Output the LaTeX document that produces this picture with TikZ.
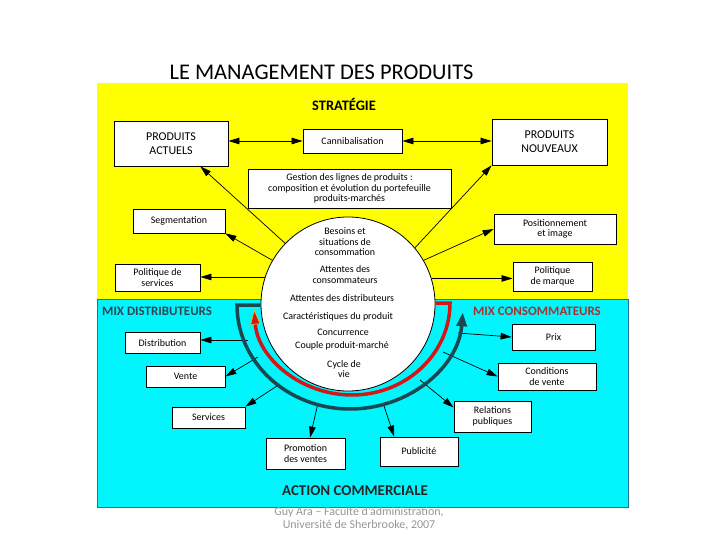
\documentclass[tikz,border=0pt]{standalone}
\usepackage{fontspec}
\setmainfont{Carlito}
\usetikzlibrary{arrows.meta}

\definecolor{jaune}{RGB}{255,255,0}
\definecolor{bleuclair}{RGB}{0,245,252}
\definecolor{bordbleu}{RGB}{40,110,160}
\definecolor{sombre}{RGB}{25,72,80}
\definecolor{rouge}{RGB}{212,22,22}
\definecolor{brique}{RGB}{165,50,50}
\definecolor{ardoise}{RGB}{50,68,80}
\definecolor{gris}{RGB}{150,150,150}

\begin{document}
\begin{tikzpicture}[x=1bp, y=-1bp,
    boite/.style={draw, fill=white, line width=0.8bp, inner sep=1bp, align=center,
      font=\fontsize{10}{10.5}\selectfont},
    texte/.style={inner sep=0, align=center, font=\fontsize{10}{10.5}\selectfont},
    fleche/.style={-{Triangle[length=11bp,width=6.5bp]}, line width=0.7bp},
    double/.style={{Triangle[length=11bp,width=6.5bp]}-{Triangle[length=11bp,width=6.5bp]}, line width=0.7bp},
    titre/.style={inner sep=0, font=\bfseries\fontsize{#1}{#1}\selectfont}]
      \useasboundingbox (0,0) rectangle (720,540);
      \fill[jaune] (97,83) rectangle (628,299);
      \filldraw[fill=bleuclair, draw=bordbleu, line width=0.8bp] (97,299) rectangle (628,507);
      \node[inner sep=0, font=\fontsize{22.5}{22.5}\selectfont] (titre) at (321.5,72) {LE MANAGEMENT DES PRODUITS};
      \node[titre=14.5] (strat) at (344,104) {STRATÉGIE};
      \node[titre=13, ardoise, anchor=west] (mixd) at (102,311) {MIX DISTRIBUTEURS};
      \node[titre=13, brique, anchor=east] (mixc) at (601,311) {MIX CONSOMMATEURS};
      \node[titre=15, black!85] (action) at (355,491) {ACTION COMMERCIALE};
      \node[texte, gris, font=\fontsize{12}{13}\selectfont] (auteur) at (359,518.5) {Guy Ara -- Faculté d'administration,\\Université de Sherbrooke, 2007};
      \node[boite, font=\fontsize{12}{14}\selectfont, minimum width=114bp, minimum height=45bp] (actuels) at (171,143.5) {PRODUITS\\ACTUELS};
      \node[boite, font=\fontsize{12}{14}\selectfont, minimum width=115bp, minimum height=46bp] (nouveaux) at (549.5,142) {PRODUITS\\NOUVEAUX};
      \foreach \nom/\x/\y/\w/\h/\txt in {
        canni/352.5/141/99/24/Cannibalisation,
        gestion/349.5/188.5/203/39/{Gestion des lignes de produits :\\composition et évolution du portefeuille\\produits-marchés},
        seg/179/221/92/24/Segmentation,
        posi/555/229/122/30/{Positionnement\\et image},
        polserv/157.5/277.5/85/27/{Politique de\\services},
        polmarq/552.5/276.5/79/29/{Politique\\de marque},
        dist/162.5/343/75/21/Distribution,
        vente/185.5/376.5/79/21/Vente,
        serv/208.5/417.5/73/21/Services,
        promo/305.5/453.5/79/31/{Promotion\\des ventes},
        publ/419/451.5/78/29/Publicité,
        relpub/492.5/416.5/77/31/{Relations\\publiques},
        condv/547/376.5/98/27/{Conditions\\de vente},
        prix/553.5/337/83/26/Prix} {
        \node[boite, minimum width=\w bp, minimum height=\h bp] (\nom) at (\x,\y) {\txt};
      }
      \node[draw, circle, fill=white, line width=0.8bp, minimum size=174bp, inner sep=0] (circ) at (348,304) {};
      \foreach \nom/\x/\y/\txt in {
        besoins/345/242/{Besoins et\\situations de\\consommation},
        attcons/345/274.5/{Attentes des\\consommateurs},
        attdist/342/298/Attentes des distributeurs,
        carac/338/317/Caractéristiques du produit,
        concur/343/332/Concurrence,
        couple/342/346/Couple produit-marché,
        cycle/344/369/{Cycle de\\vie}} {
        \node[texte] (\nom) at (\x,\y) {\txt};
      }
      \coordinate (d1) at (248,340);
      \coordinate (d2) at (258,357);
      \coordinate (d3) at (280,384);
      \coordinate (d4) at (318,403);
      \coordinate (c1) at (458,333);
      \coordinate (c2) at (443,352);
      \coordinate (c3) at (420,380);
      \coordinate (c4) at (383,403);
      \coordinate (arcg) at (237,305);
      \coordinate (arcd) at (450,303);
      \draw[double] (actuels.east |- canni.west) -- (canni.west);
      \draw[double] (canni.east) -- (canni.east -| nouveaux.west);
      \draw[fleche] (circ.136) -- (actuels.-38);
      \draw[fleche] (circ.150) -- (seg.south east);
      \draw[fleche] (circ.162) -- (circ.162 -| polserv.east);
      \draw[fleche] (circ.40) -- (nouveaux.south west);
      \draw[fleche] (circ.30) -- (posi.west);
      \draw[fleche] (circ.17) -- (circ.17 -| polmarq.west);
      \draw[fleche] (d1) -- (d1 -| dist.east);
      \draw[fleche] (d2) -- (vente.east);
      \draw[fleche] (d3) -- (serv.north east);
      \draw[fleche] (d4) -- (promo.74);
      \draw[fleche] (c1) -- (prix.west);
      \draw[fleche] (c2) -- (condv.west);
      \draw[fleche] (c3) -- (relpub.167);
      \draw[fleche] (c4) -- (publ.149);
      \draw[sombre, line width=3.5bp, -{Triangle[length=14bp,width=10bp]}]
        (circ.west |- arcg) -- (arcg) arc[start angle=180, end angle=4, x radius=113, y radius=104];
      \draw[rouge, line width=3.5bp, -{Triangle[length=15bp,width=10bp,line width=0.6bp,color=orange!50!yellow,fill=rouge]}]
        (circ.east |- arcd) -- (arcd) arc[start angle=0, end angle=176, x radius=98, y radius=92];
    \end{tikzpicture}
\end{document}
